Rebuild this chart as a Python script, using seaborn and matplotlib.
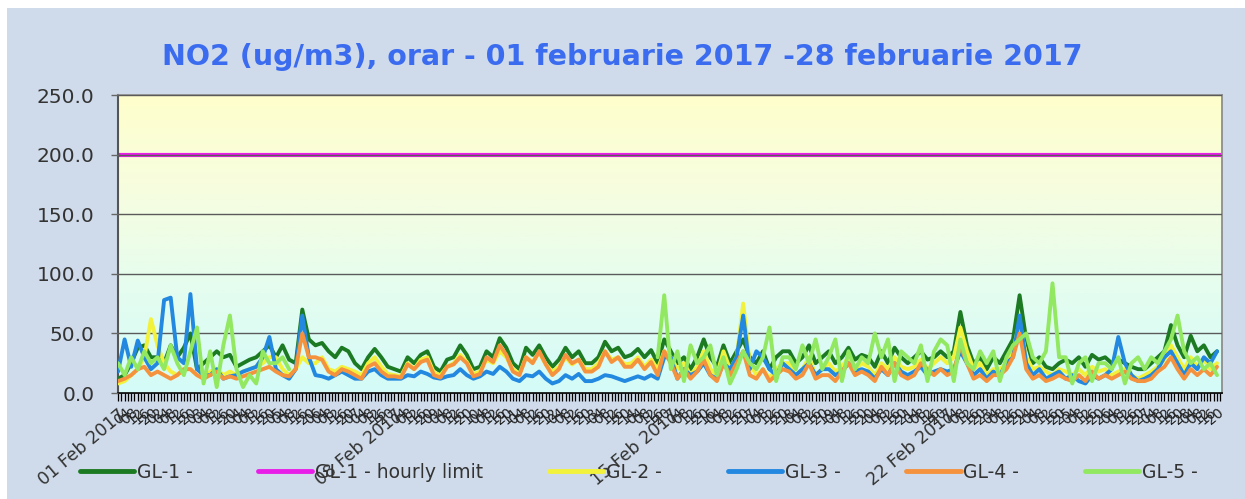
import numpy as np
import pandas as pd
import seaborn as sns
import matplotlib.pyplot as plt
from matplotlib.colors import LinearSegmentedColormap
from matplotlib.patches import Rectangle
from matplotlib.lines import Line2D

nan = np.nan

# ore de la 01 Feb 2017 00:00, citite din grafic la pas de 4 ore (o zi pe rand)
ore = np.arange(0, 672, 4)

gl1 = [12, 15, 25, 38, 40, 30,
       30, 25, 40, 30, 38, 50,
       20, 25, 30, 35, 30, 32,
       22, 25, 28, 30, 35, 40,
       30, 40, 28, 25, 70, 45,
       40, 42, 35, 30, 38, 35,
       25, 20, 30, 37, 30, 22,
       20, 18, 30, 25, 32, 35,
       22, 18, 28, 30, 40, 32,
       20, 22, 35, 30, 46, 38,
       25, 20, 38, 32, 40, 30,
       22, 28, 38, 30, 35, 25,
       25, 30, 43, 35, 38, 30,
       32, 37, 30, 36, 25, 45,
       35, 25, 30, 20, 30, 45,
       30, 22, 40, 25, 35, 45,
       30, 25, 35, 20, 30, 35,
       35, 25, 30, 40, 25, 30,
       35, 25, 30, 38, 28, 32,
       30, 22, 35, 25, 38, 30,
       25, 30, 35, 28, 30, 35,
       30, 35, 68, 40, 25, 30,
       20, 30, 25, 35, 45, 82,
       45, 25, 30, 22, 20, 25,
       28, 25, 30, 22, 32, 28,
       30, 25, 28, 25, 22, 20,
       20, 25, 30, 35, 57, 40,
       30, 48, 35, 40, 30, 35]

gl2 = [8, 10, 15, 20, 30, 62,
       40, 25, 18, 15, 20, 20,
       15, 12, 18, 20, 15, 18,
       15, 18, 20, 22, 25, 30,
       30, 20, 15, 20, 30, 25,
       25, 30, 20, 18, 22, 20,
       18, 15, 25, 30, 22, 16,
       15, 14, 25, 20, 28, 30,
       17, 15, 22, 25, 32, 26,
       16, 18, 28, 25, 35, 30,
       20, 16, 30, 26, 34, 24,
       18, 22, 30, 24, 28, 20,
       20, 25, 35, 28, 30, 24,
       25, 30, 22, 28, 20, 35,
       30, 20, 25, 15, 22, 35,
       20, 15, 35, 20, 30, 75,
       25, 15, 20, 12, 20, 25,
       25, 15, 20, 30, 15, 20,
       25, 18, 22, 30, 20, 25,
       22, 15, 25, 20, 30, 22,
       20, 22, 28, 20, 25, 30,
       25, 30, 55, 35, 20, 25,
       15, 20, 20, 25, 35, 60,
       30, 20, 22, 18, 15, 20,
       18, 15, 20, 15, 22, 18,
       20, 15, 18, 20, 15, 12,
       15, 18, 22, 28, 40, 30,
       20, 30, 22, 28, 20, 25]

gl3 = [18, 45, 22, 44, 30, 20,
       25, 78, 80, 30, 25, 83,
       20, 15, 15, 20, 12, 14,
       15, 18, 20, 22, 30, 47,
       20, 15, 12, 20, 65, 30,
       15, 14, 12, 15, 18, 15,
       12, 12, 18, 20, 15, 12,
       12, 12, 15, 14, 18, 16,
       13, 12, 14, 15, 20, 15,
       12, 14, 18, 16, 22, 18,
       12, 10, 15, 14, 18, 12,
       8, 10, 15, 12, 16, 10,
       10, 12, 15, 14, 12, 10,
       12, 14, 12, 15, 12, 30,
       30, 12, 20, 15, 18, 25,
       15, 12, 25, 20, 30, 65,
       20, 35, 30, 20, 15, 25,
       20, 15, 20, 25, 15, 20,
       20, 15, 18, 25, 18, 20,
       18, 12, 20, 15, 25, 18,
       15, 18, 22, 15, 18, 20,
       18, 20, 35, 25, 15, 20,
       12, 18, 15, 25, 30, 65,
       25, 15, 20, 12, 15, 18,
       12, 15, 10, 8, 15, 12,
       15, 20, 47, 25, 15, 10,
       12, 15, 20, 30, 35, 25,
       15, 25, 20, 30, 25, 35]

gl4 = [10, 12, 15, 20, 22, 15,
       18, 15, 12, 15, 20, 20,
       15, 12, 15, 18, 12, 14,
       12, 14, 16, 18, 20, 22,
       18, 15, 14, 20, 50, 30,
       30, 28, 18, 15, 20, 18,
       15, 12, 22, 25, 18, 14,
       14, 13, 24, 20, 26, 28,
       15, 13, 22, 24, 30, 25,
       14, 16, 30, 26, 40, 32,
       18, 15, 30, 25, 35, 24,
       15, 20, 32, 25, 28, 18,
       18, 22, 35, 26, 30, 22,
       22, 28, 20, 26, 15, 35,
       25, 12, 20, 12, 18, 28,
       15, 10, 25, 15, 25, 35,
       15, 12, 20, 10, 15, 20,
       18, 12, 15, 25, 12, 15,
       15, 10, 18, 25, 15, 18,
       15, 10, 22, 15, 25, 15,
       12, 15, 25, 20, 15, 20,
       15, 18, 40, 25, 12, 15,
       10, 15, 15, 20, 30, 50,
       20, 12, 15, 10, 12, 15,
       12, 10, 15, 10, 18, 12,
       15, 12, 15, 18, 12, 10,
       10, 12, 18, 22, 30, 20,
       12, 20, 15, 20, 15, 22]

gl5 = [25, 15, 30, 20, 35, 25,
       30, 20, 40, 25, 15, 35,
       55, 8, 35, 5, 40, 65,
       20, 5, 15, 8, 35, 25,
       25, 30, 20, nan, nan, nan,
       nan, nan, nan, nan, nan, nan,
       nan, nan, nan, nan, nan, nan,
       nan, nan, nan, nan, nan, nan,
       nan, nan, nan, nan, nan, nan,
       nan, nan, nan, nan, nan, nan,
       nan, nan, nan, nan, nan, nan,
       nan, nan, nan, nan, nan, nan,
       nan, nan, nan, nan, nan, nan,
       nan, nan, nan, nan, 30, 82,
       20, 35, 10, 40, 25, 30,
       40, 15, 30, 8, 20, 35,
       25, 20, 30, 55, 10, 30,
       30, 20, 40, 25, 45, 20,
       30, 45, 10, 35, 20, 30,
       25, 50, 30, 45, 10, 35,
       30, 25, 40, 10, 35, 45,
       40, 10, 45, 25, 20, 35,
       25, 35, 10, 30, 40, 45,
       50, 30, 25, 35, 92, 30,
       30, 8, 25, 30, 10, 25,
       25, 20, 30, 8, 25, 30,
       20, 30, 25, 35, 45, 65,
       35, 25, 30, 20, 25, 15]

statii = ['GL-1 -', 'GL-2 -', 'GL-3 -', 'GL-4 -', 'GL-5 -']
culori = ['#1c7a22', '#f2f23c', '#2288e0', '#f5923e', '#92e860']
limita = 200
culoare_limita = '#e81ee8'

titlu = 'NO2 (ug/m3), orar - 01 februarie 2017 -28 februarie 2017'

#%%
df = pd.DataFrame({'ora': ore, 'GL-1 -': gl1, 'GL-2 -': gl2, 'GL-3 -': gl3,
                   'GL-4 -': gl4, 'GL-5 -': gl5})
df = df.melt(id_vars='ora', var_name='statie', value_name='no2')
# segmente separate unde lipsesc date (GL-5)
df['seg'] = df.groupby('statie')['no2'].transform(lambda s: s.isna().cumsum())
df = df.dropna()

sns.set_theme(style='white')
plt.rcParams['font.family'] = ['DejaVu Sans']

fig = plt.figure(figsize=(12.45, 4.99), dpi=100, facecolor='white')
fig.add_artist(Rectangle((7 / 1245, 0), 1, 1 - 8 / 499, transform=fig.transFigure,
                         facecolor='#cfdbea', edgecolor='none', zorder=-5))

ax = fig.add_axes([0.0948, 0.2124, 0.8867, 0.5972])

# fundal gradient galben -> turcoaz
cmap = LinearSegmentedColormap.from_list('fundal', ['#d4fbf8', '#e4fdf0', '#f6fde0', '#ffffcc'])
ax.imshow(np.linspace(0, 1, 256).reshape(-1, 1), extent=[0, 672, 0, 250], origin='lower',
          aspect='auto', cmap=cmap, zorder=0)

sns.lineplot(data=df, x='ora', y='no2', hue='statie', units='seg', estimator=None,
             hue_order=statii, palette=dict(zip(statii, culori)), linewidth=2.8,
             legend=False, ax=ax, zorder=3)
ax.axhline(limita, color=culoare_limita, lw=3, zorder=2)

ax.set_xlim(0, 671)
ax.set_ylim(0, 250)
ax.set_xlabel('')
ax.set_ylabel('')

ax.set_yticks(np.arange(0, 251, 50))
ax.set_yticklabels([f'{v:.1f}' for v in np.arange(0, 251, 50)], fontsize=14.5, color='#333333')
ax.grid(axis='y', color='#5a5a5a', lw=1)
ax.set_axisbelow(False)

# etichete pe axa x
etichete = []
for h in ore:
    if h % 168 == 0:
        etichete.append(f'{h // 24 + 1:02d} Feb 2017')
    elif h % 24 == 0:
        etichete.append(f'{h // 24 + 1:02d}')
    else:
        etichete.append(f'{h % 24:02d}')
ax.set_xticks(ore)
ax.set_xticklabels(etichete, rotation=40, ha='right', rotation_mode='anchor',
                   fontsize=10, color='#222222')
for t, h in zip(ax.get_xticklabels(), ore):
    if h % 168 == 0:
        t.set_fontsize(12.5)
        t.set_color('#333333')
ax.set_xticks(np.arange(0, 672, 2), minor=True)
ax.tick_params(axis='x', which='both', bottom=True, length=6, width=0.9, color='black', pad=3)
ax.tick_params(axis='y', left=True, length=5, width=1, color='#666666', pad=12)

for s in ['top', 'right']:
    ax.spines[s].set_color('#8a8a8a')
ax.spines['left'].set_color('#555555')
ax.spines['left'].set_linewidth(1.5)
ax.spines['bottom'].set_color('black')

fig.text(0.5, 0.886, titlu, ha='center', va='center', fontsize=20.5,
         fontweight='bold', color='#3b6cf0')

# legenda: GL-1, limita, GL-2 ... GL-5
handles = [Line2D([], [], color=culori[0], lw=3.5),
           Line2D([], [], color=culoare_limita, lw=3.5)]
handles += [Line2D([], [], color=c, lw=3.5) for c in culori[1:]]
labels = [statii[0], 'GL-1 - hourly limit'] + statii[1:]
fig.legend(handles, labels, loc='center', bbox_to_anchor=(0.513, 0.054), ncol=6,
           frameon=False, fontsize=13.5, handlelength=2.9, columnspacing=3.5,
           handletextpad=0.15, labelcolor='#333333')

fig.savefig('out.png', dpi=100, facecolor='white')
